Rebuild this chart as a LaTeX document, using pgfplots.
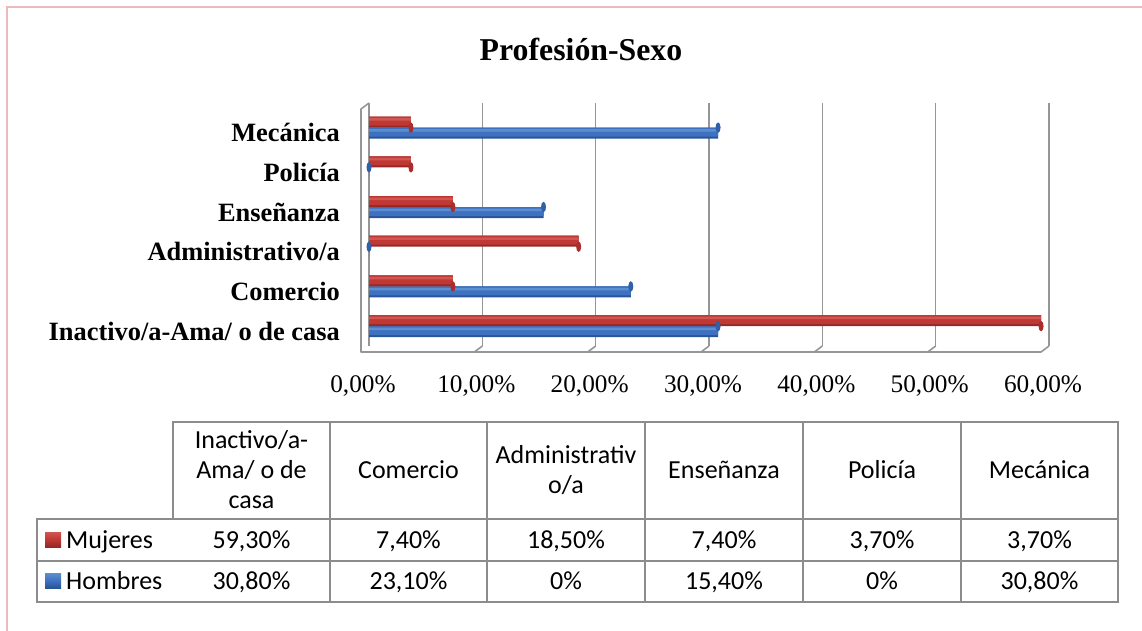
\documentclass[border=0pt]{standalone}
\usepackage{fontspec}
\setmainfont{Liberation Serif}
\newfontfamily\carlito{Carlito}
\usepackage{pgfplots}
\pgfplotsset{compat=1.18}
\usepackage{pgfplotstable}
\usetikzlibrary{shapes.geometric}

\definecolor{redmid}{RGB}{192,56,52}
\definecolor{redtop}{RGB}{208,86,82}
\definecolor{redbot}{RGB}{150,40,40}
\definecolor{redcap}{RGB}{170,46,44}
\definecolor{bluemid}{RGB}{62,114,192}
\definecolor{bluetop}{RGB}{92,142,210}
\definecolor{bluebot}{RGB}{40,84,152}
\definecolor{bluecap}{RGB}{48,96,170}
\definecolor{gridgray}{RGB}{150,150,150}
\definecolor{tablegray}{RGB}{140,140,140}
\definecolor{framepink}{RGB}{236,186,186}

% share of each profession by sex, in %
\pgfplotstableread{
pos mujeres hombres
0   59.3    30.8
1   7.4     23.1
2   18.5    0
3   7.4     15.4
4   3.7     0
5   3.7     30.8
}\profdata

\begin{document}
\begin{tikzpicture}
\path[use as bounding box] (0pt,0pt) rectangle (1142pt,-630pt);
\draw[framepink, line width=2pt] (7pt,-640pt) -- (7pt,-7pt) -- (1150pt,-7pt);

\node[font=\fontsize{31.8}{36}\selectfont\bfseries, anchor=base] at (581pt,-60pt) {Profesión-Sexo};

\begin{axis}[
  at={(369pt,-346pt)}, anchor=south west,
  scale only axis, width=680pt, height=243pt,
  xmin=0, xmax=60, ymin=-0.5, ymax=5.62,
  clip=false,
  axis line style={draw=none},
  major tick length=0pt,
  xtick={0,10,...,60},
  xmajorgrids, grid style={gridgray, line width=1.6pt},
  ytick={0,...,5},
  yticklabels={Inactivo/a-Ama/ o de casa, Comercio, Administrativo/a, Enseñanza, Policía, Mecánica},
  yticklabel style={font=\fontsize{26.4}{30}\selectfont\bfseries, anchor=east, inner sep=0pt, xshift=-29pt, yshift=-5pt},
  /pgf/number format/assume math mode=true,
  xticklabel={\pgfmathprintnumber[fixed,fixed zerofill,precision=2,use comma]{\tick}\%},
  xticklabel style={font=\fontsize{25.3}{30}\selectfont, anchor=base, inner sep=0pt, yshift=-46pt, xshift=-6pt},
  xbar,
  capnode/.style={nodes near coords={},
    every node near coord/.style={ellipse, inner sep=0pt, minimum width=5pt, minimum height=10.5pt,
      fill=#1, draw=none, anchor=center}},
]
% Hombres (blue, lower bar)
\addplot[draw=none, fill=bluebot, bar width=11pt, bar shift=-5.5pt] table[x=hombres, y=pos] {\profdata};
\addplot[draw=none, fill=bluemid, bar width=9pt, bar shift=-4.5pt] table[x=hombres, y=pos] {\profdata};
\addplot[draw=none, fill=bluetop, bar width=2.5pt, bar shift=-2.8pt] table[x=hombres, y=pos] {\profdata};
\addplot[draw=none, bar width=0pt, bar shift=-5.5pt, capnode=bluecap] table[x=hombres, y=pos] {\profdata};
% Mujeres (red, upper bar)
\addplot[draw=none, fill=redbot, bar width=11pt, bar shift=5.5pt] table[x=mujeres, y=pos] {\profdata};
\addplot[draw=none, fill=redmid, bar width=9pt, bar shift=6.5pt] table[x=mujeres, y=pos] {\profdata};
\addplot[draw=none, fill=redtop, bar width=2.5pt, bar shift=8.2pt] table[x=mujeres, y=pos] {\profdata};
\addplot[draw=none, bar width=0pt, bar shift=5.5pt, capnode=redcap] table[x=mujeres, y=pos] {\profdata};

% front edges of the floor
\draw[gridgray, line width=1.6pt, line join=round] (axis cs:0,5.62) -- ++(-8pt,-6pt) -- ++(0pt,-243pt) -- ++(680pt,0pt) -- ++(8pt,6pt);
\pgfplotsinvokeforeach{10,20,30,40,50}{
  \draw[gridgray, line width=1.6pt] (axis cs:#1,-0.5) -- ++(-8pt,-6pt);
}
\end{axis}

% data table
\begin{scope}[x=1pt, y=-1pt, font=\carlito\fontsize{26}{30}\selectfont]
\draw[tablegray, line width=1.5pt] (173,422) -- (1118,422) -- (1118,602) -- (37,602) -- (37,519) -- (173,519) -- cycle;
\draw[tablegray, line width=1.5pt] (173,519) -- (1118,519) (37,561) -- (1118,561);
\foreach \c in {330,487,645,803,961} \draw[tablegray, line width=1.5pt] (\c,422) -- (\c,602);
\foreach \cx/\txt in {251.5/{Inactivo/a-\\Ama/ o de\\casa}, 408.5/Comercio, 566/{Administrativ\\o/a},
    724/Enseñanza, 882/Policía, 1039.5/Mecánica}
  \node[align=center, inner sep=0pt] at (\cx,470) {\txt};
\foreach \cx/\m/\h in {251.5/{59,30\%}/{30,80\%}, 408.5/{7,40\%}/{23,10\%}, 566/{18,50\%}/{0\%},
    724/{7,40\%}/{15,40\%}, 882/{3,70\%}/{0\%}, 1039.5/{3,70\%}/{30,80\%}}
{
  \node[anchor=base, inner sep=0pt] at (\cx,548) {\m};
  \node[anchor=base, inner sep=0pt] at (\cx,589) {\h};
}
\shade[top color=redtop, bottom color=redbot, middle color=redmid] (45,532) rectangle (61,547);
\shade[top color=bluetop, bottom color=bluebot, middle color=bluemid] (45,573) rectangle (61,588);
\node[anchor=base west, inner sep=0pt] at (66,548) {Mujeres};
\node[anchor=base west, inner sep=0pt] at (66,589) {Hombres};
\end{scope}
\end{tikzpicture}
\end{document}
